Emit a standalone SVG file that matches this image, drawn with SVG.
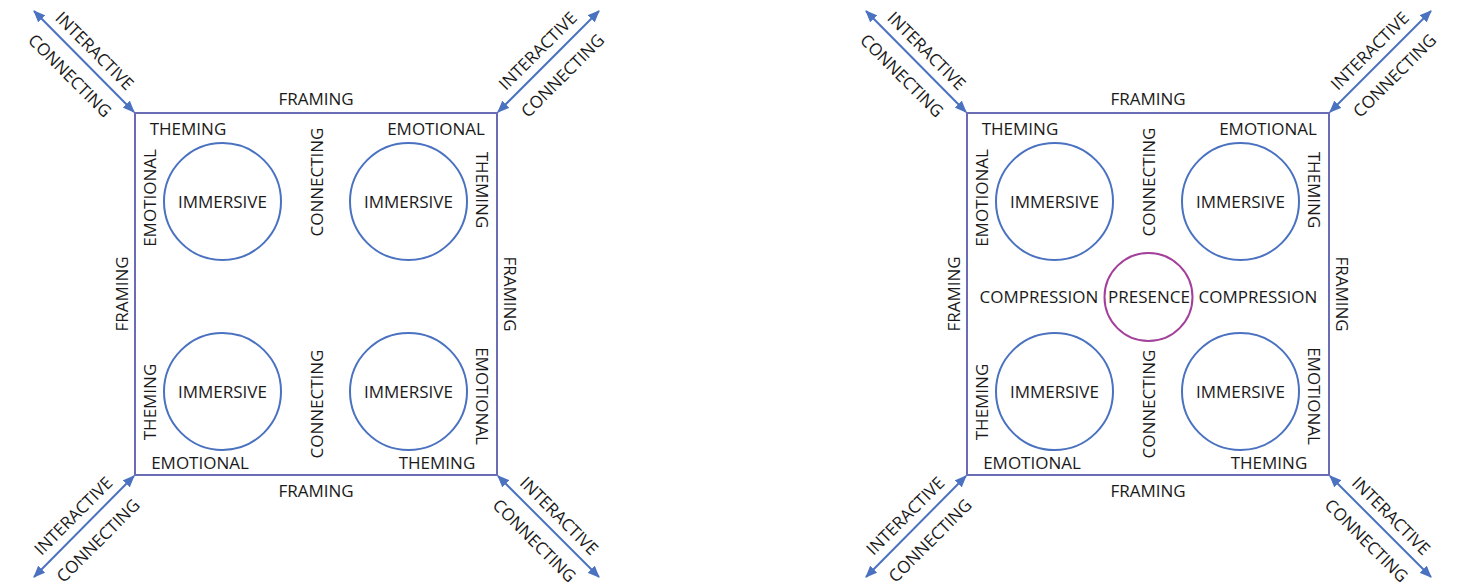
<svg xmlns="http://www.w3.org/2000/svg" width="1459" height="585" viewBox="0 0 1459 585">
  <defs>
    <marker id="head" viewBox="0 0 12 10" refX="11" refY="5" markerWidth="12" markerHeight="10" markerUnits="userSpaceOnUse" orient="auto-start-reverse">
      <path d="M0,0 L12,5 L0,10 Z" fill="#4a72c0"/>
    </marker>
    <style>
      text { font-family: "Open Sans", "Liberation Sans", sans-serif; font-size: 17px; fill: #1a1a1a; text-anchor: middle; }
      .frame { fill: none; stroke: #6a6cb6; stroke-width: 2; }
      .ring { fill: none; stroke: #4a72c0; stroke-width: 2; }
      .core { fill: none; stroke: #a3409a; stroke-width: 2; }
      .arrow { stroke: #4a72c0; stroke-width: 2; fill: none; marker-start: url(#head); marker-end: url(#head); }
    </style>
    <!-- shared square framework with corner arrows and labels -->
    <g id="framework">
      <rect class="frame" x="135" y="113" width="362" height="362"/>
      <g class="connectors">
        <line class="arrow" x1="134" y1="112" x2="34" y2="11"/>
        <line class="arrow" x1="498" y1="112" x2="599" y2="11"/>
        <line class="arrow" x1="134" y1="476" x2="34" y2="577"/>
        <line class="arrow" x1="498" y1="476" x2="599" y2="577"/>
      </g>
      <g transform="translate(84,61.5) rotate(45)">
        <text x="0" y="-9">INTERACTIVE</text>
        <text x="0" y="26">CONNECTING</text>
      </g>
      <g transform="translate(548.5,61.5) rotate(-45)">
        <text x="0" y="-9">INTERACTIVE</text>
        <text x="0" y="26">CONNECTING</text>
      </g>
      <g transform="translate(84,526.5) rotate(-45)">
        <text x="0" y="-9">INTERACTIVE</text>
        <text x="0" y="26">CONNECTING</text>
      </g>
      <g transform="translate(548.5,526.5) rotate(45)">
        <text x="0" y="-9">INTERACTIVE</text>
        <text x="0" y="26">CONNECTING</text>
      </g>
      <text x="316" y="105">FRAMING</text>
      <text x="316" y="497">FRAMING</text>
      <text transform="translate(128,294) rotate(-90)">FRAMING</text>
      <text transform="translate(504,294) rotate(90)">FRAMING</text>
      <text x="188" y="135">THEMING</text>
      <text x="436" y="135">EMOTIONAL</text>
      <text x="200" y="469">EMOTIONAL</text>
      <text x="437" y="469">THEMING</text>
      <text transform="translate(156,198) rotate(-90)">EMOTIONAL</text>
      <text transform="translate(476,190) rotate(90)">THEMING</text>
      <text transform="translate(156,402) rotate(-90)">THEMING</text>
      <text transform="translate(476,396) rotate(90)">EMOTIONAL</text>
      <text transform="translate(322.5,182) rotate(-90)">CONNECTING</text>
      <text transform="translate(322.5,404) rotate(-90)">CONNECTING</text>
      <g id="n-immersive-tl"><circle class="ring" cx="222.5" cy="201.5" r="58.5"/><text x="222.5" y="207.5">IMMERSIVE</text></g>
      <g id="n-immersive-tr"><circle class="ring" cx="408.5" cy="201.5" r="58.5"/><text x="408.5" y="207.5">IMMERSIVE</text></g>
      <g id="n-immersive-bl"><circle class="ring" cx="222.5" cy="391.5" r="58.5"/><text x="222.5" y="397.5">IMMERSIVE</text></g>
      <g id="n-immersive-br"><circle class="ring" cx="408.5" cy="391.5" r="58.5"/><text x="408.5" y="397.5">IMMERSIVE</text></g>
    </g>
  </defs>
  <rect width="1459" height="585" fill="#ffffff"/>
  <!-- left model -->
  <g id="model-left">
    <use href="#framework"/>
  </g>
  <!-- right model with central presence -->
  <g id="model-right">
    <use href="#framework" transform="translate(832,0)"/>
    <g id="n-presence">
      <circle class="core" cx="1148.5" cy="297" r="44"/>
      <text x="1149" y="303">PRESENCE</text>
    </g>
    <text x="1039" y="303">COMPRESSION</text>
    <text x="1258" y="303">COMPRESSION</text>
  </g>
</svg>
